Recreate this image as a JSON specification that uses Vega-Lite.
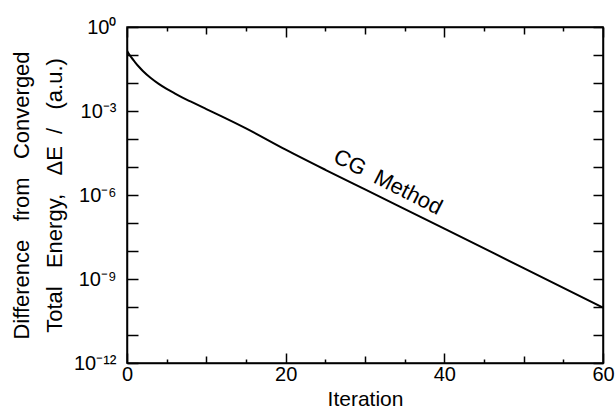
{
  "$schema": "https://vega.github.io/schema/vega-lite/v6.json",
  "width": 476,
  "height": 336,
  "autosize": "none",
  "padding": {"left": 127, "top": 27, "right": 12, "bottom": 46},
  "config": {
    "view": {"stroke": "black", "strokeWidth": 1.5},
    "font": "Liberation Sans",
    "axis": {
      "domainColor": "black", "domainWidth": 1.5,
      "tickColor": "black", "tickWidth": 1.5,
      "labelColor": "black", "labelFont": "Liberation Sans", "labelFontSize": 20,
      "titleColor": "black", "titleFont": "Liberation Sans", "titleFontSize": 22, "titleFontWeight": "normal",
      "grid": false, "labelFlush": false, "labelOverlap": false, "labelBound": false
    }
  },
  "layer": [
    {
      "data": {"values": [
        {"iteration": 0, "dE": 0.1413},
        {"iteration": 0.25, "dE": 0.1072},
        {"iteration": 0.5, "dE": 0.0851},
        {"iteration": 1, "dE": 0.0562},
        {"iteration": 1.5, "dE": 0.038},
        {"iteration": 2, "dE": 0.0269},
        {"iteration": 3, "dE": 0.0151},
        {"iteration": 4, "dE": 0.00933},
        {"iteration": 5, "dE": 0.00617},
        {"iteration": 6, "dE": 0.00427},
        {"iteration": 7, "dE": 0.00302},
        {"iteration": 8, "dE": 0.00219},
        {"iteration": 10, "dE": 0.00117},
        {"iteration": 12, "dE": 0.000631},
        {"iteration": 15, "dE": 0.00024},
        {"iteration": 20, "dE": 4.17e-5},
        {"iteration": 25, "dE": 7.94e-6},
        {"iteration": 30, "dE": 1.58e-6},
        {"iteration": 40, "dE": 6.31e-8},
        {"iteration": 50, "dE": 2.45e-9},
        {"iteration": 60, "dE": 9.55e-11}
      ]},
      "mark": {"type": "line", "color": "black", "strokeWidth": 2, "clip": true, "interpolate": "monotone"},
      "encoding": {
        "x": {
          "field": "iteration", "type": "quantitative",
          "scale": {"domain": [0, 60], "nice": false, "zero": false},
          "axis": {
            "orient": "bottom",
            "values": [0, 5, 10, 15, 20, 25, 30, 35, 40, 45, 50, 55, 60],
            "labelExpr": "datum.value % 20 === 0 ? datum.label : ''",
            "tickSize": {"condition": [{"test": "datum.value % 20 === 0", "value": -10}, {"test": "datum.value % 10 === 0", "value": -7}], "value": -4},
            "labelPadding": 11,
            "title": "Iteration",
            "titleFontSize": 21,
            "titlePadding": -2
          }
        },
        "y": {
          "field": "dE", "type": "quantitative",
          "scale": {"type": "log", "domain": [1e-12, 1], "nice": false},
          "axis": {
            "orient": "left",
            "values": [1, 0.1, 0.01, 0.001, 0.0001, 1e-5, 1e-6, 1e-7, 1e-8, 1e-9, 1e-10, 1e-11, 1e-12],
            "labelExpr": "round(log(datum.value)/LN10) == 0 ? '10⁰' : round(log(datum.value)/LN10) == -3 ? '10⁻³' : round(log(datum.value)/LN10) == -6 ? '10⁻⁶' : round(log(datum.value)/LN10) == -9 ? '10⁻⁹' : round(log(datum.value)/LN10) == -12 ? '10⁻¹²' : ''",
            "tickSize": -11,
            "labelPadding": 22,
            "title": ["Difference\u00a0\u00a0 from\u00a0\u00a0 Converged", "Total\u00a0\u00a0 Energy,\u00a0\u00a0 ΔE\u00a0 /\u00a0\u00a0 (a.u.)"],
            "titleLineHeight": 33,
            "titlePadding": 7
          }
        }
      }
    },
    {
      "data": {"values": [{"iteration": 32.9, "dE": 2.9e-6, "label": "CG\u00a0 Method"}]},
      "mark": {"type": "text", "angle": 27, "fontSize": 22, "font": "Liberation Sans", "color": "black", "align": "center", "baseline": "middle"},
      "encoding": {
        "x": {
          "field": "iteration", "type": "quantitative",
          "scale": {"domain": [0, 60], "nice": false, "zero": false},
          "axis": {
            "orient": "top",
            "values": [0, 5, 10, 15, 20, 25, 30, 35, 40, 45, 50, 55, 60],
            "labels": false,
            "tickSize": {"condition": [{"test": "datum.value % 20 === 0", "value": -10}, {"test": "datum.value % 10 === 0", "value": -7}], "value": -4},
            "title": null
          }
        },
        "y": {
          "field": "dE", "type": "quantitative",
          "scale": {"type": "log", "domain": [1e-12, 1], "nice": false},
          "axis": {
            "orient": "right",
            "values": [1, 0.1, 0.01, 0.001, 0.0001, 1e-5, 1e-6, 1e-7, 1e-8, 1e-9, 1e-10, 1e-11, 1e-12],
            "labels": false,
            "tickSize": -10,
            "title": null
          }
        },
        "text": {"field": "label", "type": "nominal"}
      }
    }
  ],
  "resolve": {"axis": {"x": "independent", "y": "independent"}}
}
